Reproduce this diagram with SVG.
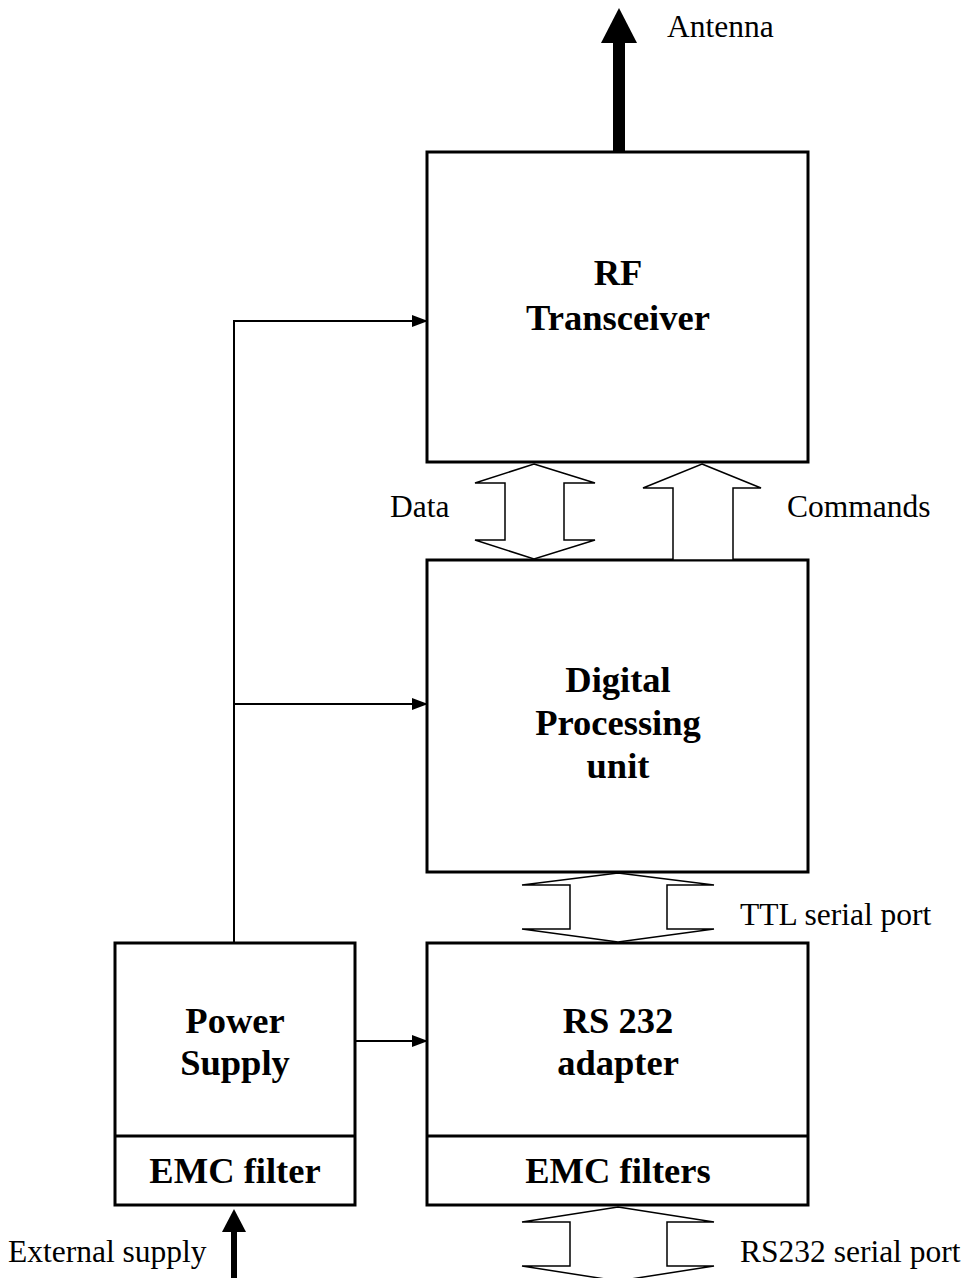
<svg xmlns="http://www.w3.org/2000/svg" width="969" height="1278" viewBox="0 0 969 1278">
<style>
.box{fill:#fff;stroke:#000;stroke-width:3}
.div{stroke:#000;stroke-width:3}
.t{font-family:"Liberation Serif",serif;font-size:31.5px;fill:#000}
.b{font-family:"Liberation Serif",serif;font-size:36.5px;font-weight:bold;fill:#000;text-anchor:middle}
.ln{fill:none;stroke:#000;stroke-width:2}
.bus{fill:#fff;stroke:#000;stroke-width:1.5;stroke-linejoin:miter}
</style>
<defs>
<marker id="ah" markerWidth="16" markerHeight="12" refX="15" refY="6" orient="auto" markerUnits="userSpaceOnUse">
<path d="M0,0 L16,6 L0,12 Z" fill="#000"/>
</marker>
</defs>
<rect width="969" height="1278" fill="#fff"/>
<g id="rf">
<rect class="box" x="427" y="152" width="381" height="310"/>
<text class="b" x="618" y="285">RF</text>
<text class="b" x="618" y="330">Transceiver</text>
</g>
<g id="dpu">
<rect class="box" x="427" y="560" width="381" height="312"/>
<text class="b" x="618" y="692">Digital</text>
<text class="b" x="618" y="735">Processing</text>
<text class="b" x="618" y="778">unit</text>
</g>
<g id="rs232">
<rect class="box" x="427" y="943" width="381" height="262"/>
<line class="div" x1="427" y1="1136" x2="808" y2="1136"/>
<text class="b" x="618" y="1033">RS 232</text>
<text class="b" x="618" y="1075">adapter</text>
<text class="b" x="618" y="1183">EMC filters</text>
</g>
<g id="power">
<rect class="box" x="115" y="943" width="240" height="262"/>
<line class="div" x1="115" y1="1136" x2="355" y2="1136"/>
<text class="b" x="235" y="1033">Power</text>
<text class="b" x="235" y="1075">Supply</text>
<text class="b" x="235" y="1183">EMC filter</text>
</g>
<g id="connectors">
<polyline class="ln" points="234,943 234,321 427,321" marker-end="url(#ah)"/>
<line class="ln" x1="234" y1="704" x2="427" y2="704" marker-end="url(#ah)"/>
<line class="ln" x1="355" y1="1041" x2="427" y2="1041" marker-end="url(#ah)"/>
<rect x="613" y="40" width="12" height="112" fill="#000"/>
<path d="M619,8 L637,43 L601,43 Z" fill="#000"/>
<rect x="231" y="1230" width="6" height="48" fill="#000"/>
<path d="M234,1209 L246,1232 L222,1232 Z" fill="#000"/>
<path class="bus" d="M534,464 L595,483 L564,483 L564,540 L595,540 L534,559 L475,540 L505,540 L505,483 L475,483 Z"/>
<path class="bus" d="M702,464 L761,488 L733,488 L733,560 L673,560 L673,488 L643,488 Z"/>
<path class="bus" d="M618,873 L714,885 L667,885 L667,929 L714,929 L618,942 L522,929 L570,929 L570,885 L522,885 Z"/>
<path class="bus" d="M618,1207 L714,1222 L667,1222 L667,1266 L714,1266 L618,1281 L522,1266 L570,1266 L570,1222 L522,1222 Z"/>
</g>
<g id="labels">
<text class="t" x="667" y="37">Antenna</text>
<text class="t" x="390" y="517">Data</text>
<text class="t" x="787" y="517">Commands</text>
<text class="t" x="740" y="925">TTL serial port</text>
<text class="t" x="8" y="1262">External supply</text>
<text class="t" x="740" y="1262">RS232 serial port</text>
</g>
</svg>
